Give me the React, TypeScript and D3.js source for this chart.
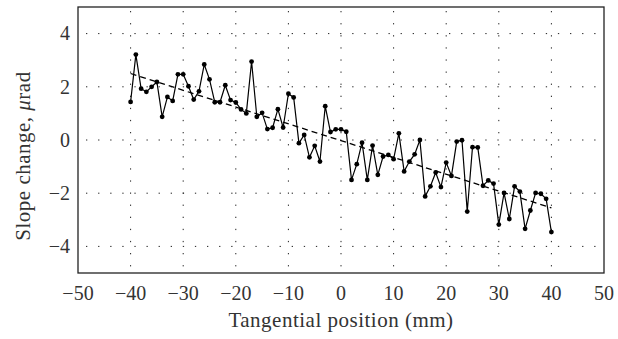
import React from "react";
import * as d3 from "d3";

const positions: number[] = d3.range(-40, 41, 1);
const slopeValues: number[] = [
  1.43, 3.21, 1.93, 1.81, 2.0, 2.18, 0.87, 1.62, 1.47, 2.47,
  2.47, 2.02, 1.52, 1.83, 2.84, 2.28, 1.42, 1.42, 2.06, 1.5,
  1.41, 1.15, 1.0, 2.95, 0.87, 1.02, 0.41, 0.46, 1.16, 0.47,
  1.74, 1.6, -0.12, 0.19, -0.65, -0.22, -0.81, 1.27, 0.3, 0.4,
  0.4, 0.31, -1.5, -0.91, -0.1, -1.5, -0.21, -1.31, -0.62, -0.56,
  -0.72, 0.25, -1.18, -0.81, -0.54, 0.0, -2.12, -1.74, -1.22, -1.77,
  -0.85, -1.35, -0.06, -0.01, -2.69, -0.27, -0.28, -1.72, -1.52, -1.64,
  -3.18, -1.99, -2.97, -1.74, -1.94, -3.34, -2.65, -1.99, -2.02, -2.21,
  -3.46,
];
const trendX: number[] = [-40, 40];
const trendY: number[] = [2.5, -2.55];
const xTicks: number[] = [-50, -40, -30, -20, -10, 0, 10, 20, 30, 40, 50];
const yTicks: number[] = [-4, -2, 0, 2, 4];

const W = 618;
const H = 339;
const left = 78;
const right = 604;
const top = 7;
const bottom = 273;
const font = "'Liberation Serif', 'Times New Roman', serif";

const fmt = (v: number) => (v < 0 ? "\u2212" + Math.abs(v) : String(v));

export default function App() {
  const x = d3.scaleLinear().domain([-50, 50]).range([left, right]);
  const y = d3.scaleLinear().domain([-5, 5]).range([bottom, top]);
  const pts: [number, number][] = positions.map((p, i) => [p, slopeValues[i]]);
  const line = d3
    .line<[number, number]>()
    .x((d) => x(d[0]))
    .y((d) => y(d[1]));
  const trend: [number, number][] = trendX.map((t, i) => [t, trendY[i]]);

  return (
    <svg width={W} height={H} style={{ position: "absolute", left: 0, top: 0, background: "#fff" }}>
      <rect x={0} y={0} width={W} height={H} fill="#fff" />
      {xTicks.slice(1, -1).map((t) => (
        <line key={"gx" + t} x1={x(t)} x2={x(t)} y1={top} y2={bottom} stroke="#222" strokeWidth={1} strokeDasharray="1.3,10.8" strokeDashoffset={-4} />
      ))}
      {yTicks.map((t) => (
        <line key={"gy" + t} x1={left} x2={right} y1={y(t)} y2={y(t)} stroke="#222" strokeWidth={1} strokeDasharray="1.3,10.8" strokeDashoffset={-8} />
      ))}
      <path d={line(trend) || ""} fill="none" stroke="#000" strokeWidth={1.3} strokeDasharray="6,4" />
      <path d={line(pts) || ""} fill="none" stroke="#000" strokeWidth={1.2} />
      {pts.map((d, i) => (
        <circle key={i} cx={x(d[0])} cy={y(d[1])} r={2.4} fill="#000" />
      ))}
      <rect x={left} y={top} width={right - left} height={bottom - top} fill="none" stroke="#222" strokeWidth={1.3} />
      {xTicks.map((t) => (
        <text key={"tx" + t} x={x(t)} y={300} textAnchor="middle" fontFamily={font} fontSize={20} fill="#333">
          {fmt(t)}
        </text>
      ))}
      {yTicks.map((t) => (
        <text key={"ty" + t} x={70} y={y(t)} dy="0.34em" textAnchor="end" fontFamily={font} fontSize={20} fill="#333">
          {fmt(t)}
        </text>
      ))}
      <text x={(left + right) / 2} y={327} textAnchor="middle" fontFamily={font} fontSize={21} letterSpacing={0.5} fill="#333">
        Tangential position (mm)
      </text>
      <text transform={`translate(30,156) rotate(-90)`} textAnchor="middle" fontFamily={font} fontSize={21} letterSpacing={0.5} fill="#333">
        Slope change, <tspan fontStyle="italic">μ</tspan>rad
      </text>
    </svg>
  );
}
